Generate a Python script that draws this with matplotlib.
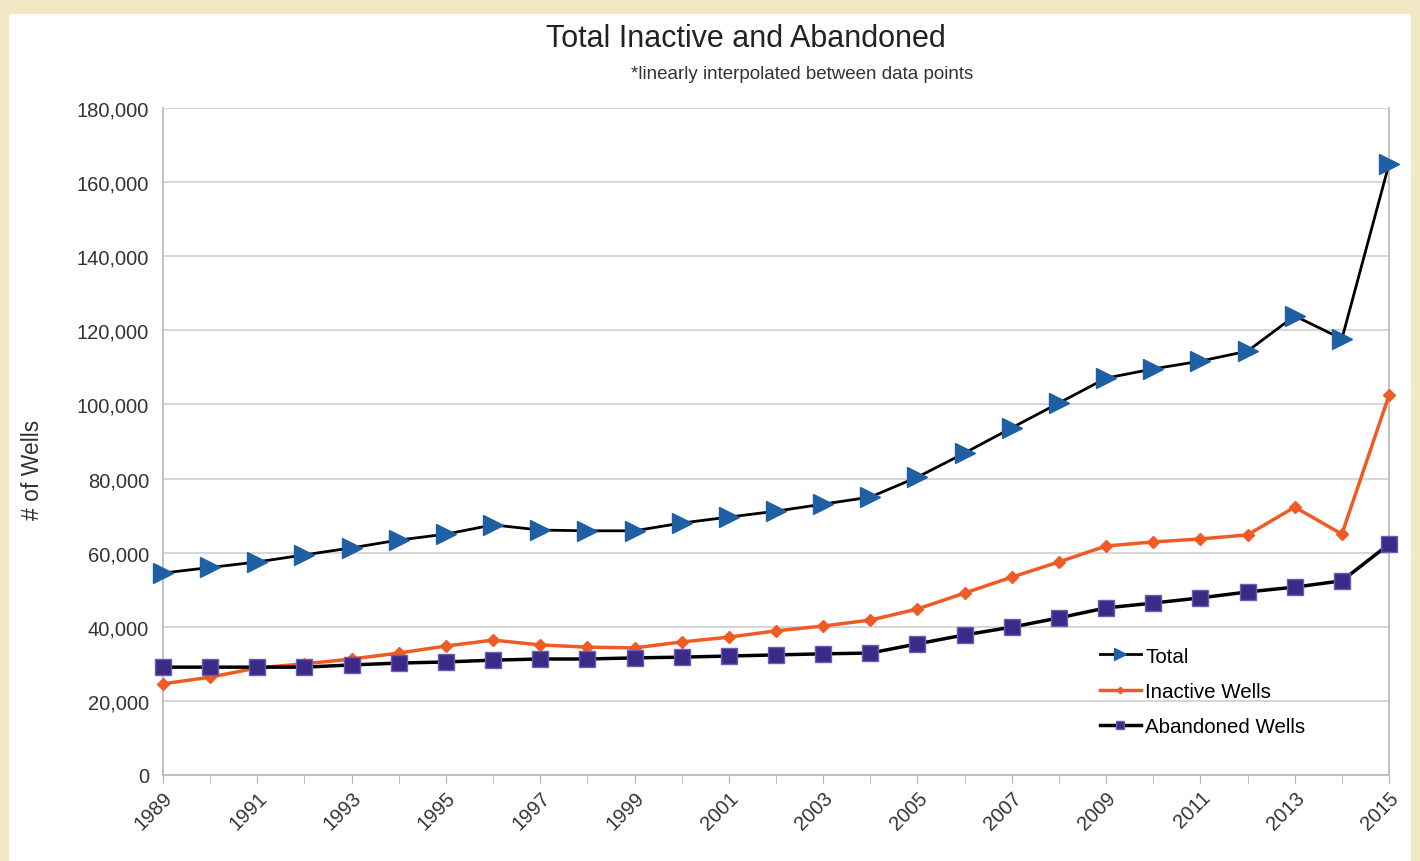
import matplotlib.pyplot as plt
from matplotlib.ticker import FuncFormatter, MultipleLocator

years = list(range(1989, 2016))
total = [54500, 56000, 57500, 59400, 61300, 63400, 65000, 67500, 66100, 65900,
         65900, 68000, 69600, 71200, 73100, 75000, 80400, 86900, 93700, 100400,
         107100, 109600, 111700, 114400, 123900, 117700, 164900]
inactive = [24600, 26400, 28900, 30000, 31300, 32900, 34800, 36400, 35100, 34500,
            34300, 35900, 37200, 38900, 40200, 41800, 44800, 49100, 53400, 57500,
            61800, 62900, 63700, 64800, 72300, 65000, 102500]
abandoned = [29100, 29100, 29100, 29100, 29700, 30200, 30500, 31000, 31300, 31300,
             31600, 31800, 32100, 32400, 32700, 32900, 35400, 37800, 39900, 42400,
             45100, 46400, 47800, 49400, 50700, 52400, 62300]

plt.rcParams['font.family'] = ['Liberation Sans', 'DejaVu Sans']

fig = plt.figure(figsize=(14.2, 8.62), dpi=100)
fig.patch.set_facecolor('#f3e8c4')
# white panel behind the chart
panel = plt.Rectangle((0.006, 0.0), 0.988, 0.983, transform=fig.transFigure,
                      facecolor='white', edgecolor='none', zorder=-5)
fig.patches.append(panel)

ax = fig.add_axes([0.1148, 0.0998, 0.8634, 0.7737])
ax.set_facecolor('white')

ax.plot(years, total, color='black', lw=2, marker='>', ms=15,
        mfc='#1f5fa3', mec='#1f5fa3', label='Total', clip_on=False, zorder=4)
ax.plot(years, inactive, color='#f05a24', lw=2.5, marker='D', ms=6,
        mfc='#f05a24', mec='#f05a24', label='Inactive Wells', clip_on=False, zorder=3)
ax.plot(years, abandoned, color='black', lw=2.5, marker='s', ms=11.5,
        mfc='#3b2a88', mec='#6a5cb0', mew=1, label='Abandoned Wells', clip_on=False, zorder=3)

ax.set_xlim(1989, 2015)
ax.set_ylim(0, 180000)
ax.yaxis.set_major_locator(MultipleLocator(20000))
ax.yaxis.set_major_formatter(FuncFormatter(lambda v, p: f'{int(v):,}'))
ax.set_xticks(years[::2])
ax.set_xticks(years, minor=True)
ax.tick_params(axis='x', which='both', direction='out', length=6, color='#b0b0b0',
               labelsize=14.5, labelcolor='#333333', pad=3)
ax.tick_params(axis='y', length=0, labelsize=14.5, labelcolor='#333333', pad=10)
for lbl in ax.get_xticklabels():
    lbl.set_rotation(45)
    lbl.set_ha('right')
    lbl.set_va('top')
    lbl.set_rotation_mode('anchor')

ax.grid(axis='y', color='#d0d0d0', lw=1.2)
ax.set_axisbelow(True)
for side in ['top']:
    ax.spines[side].set_visible(False)
for side in ['left', 'right', 'bottom']:
    ax.spines[side].set_color('#b8b8b8')
    ax.spines[side].set_linewidth(1.2)

ax.set_ylabel('# of Wells', fontsize=16.5, color='#333333')
ax.yaxis.set_label_coords(-0.097, 0.459)

fig.text(0.5255, 0.955, 'Total Inactive and Abandoned', ha='center', va='center',
         fontsize=22, color='#222222')
fig.text(0.565, 0.914, '*linearly interpolated between data points', ha='center',
         va='center', fontsize=13.5, color='#333333')

ax.legend(loc='lower left', bbox_to_anchor=(0.749, 0.03), frameon=False,
          fontsize=14.8, handlelength=2.0, handletextpad=0.2, labelspacing=0.8,
          markerscale=0.55)

fig.savefig('out.png', dpi=100, facecolor=fig.get_facecolor())
